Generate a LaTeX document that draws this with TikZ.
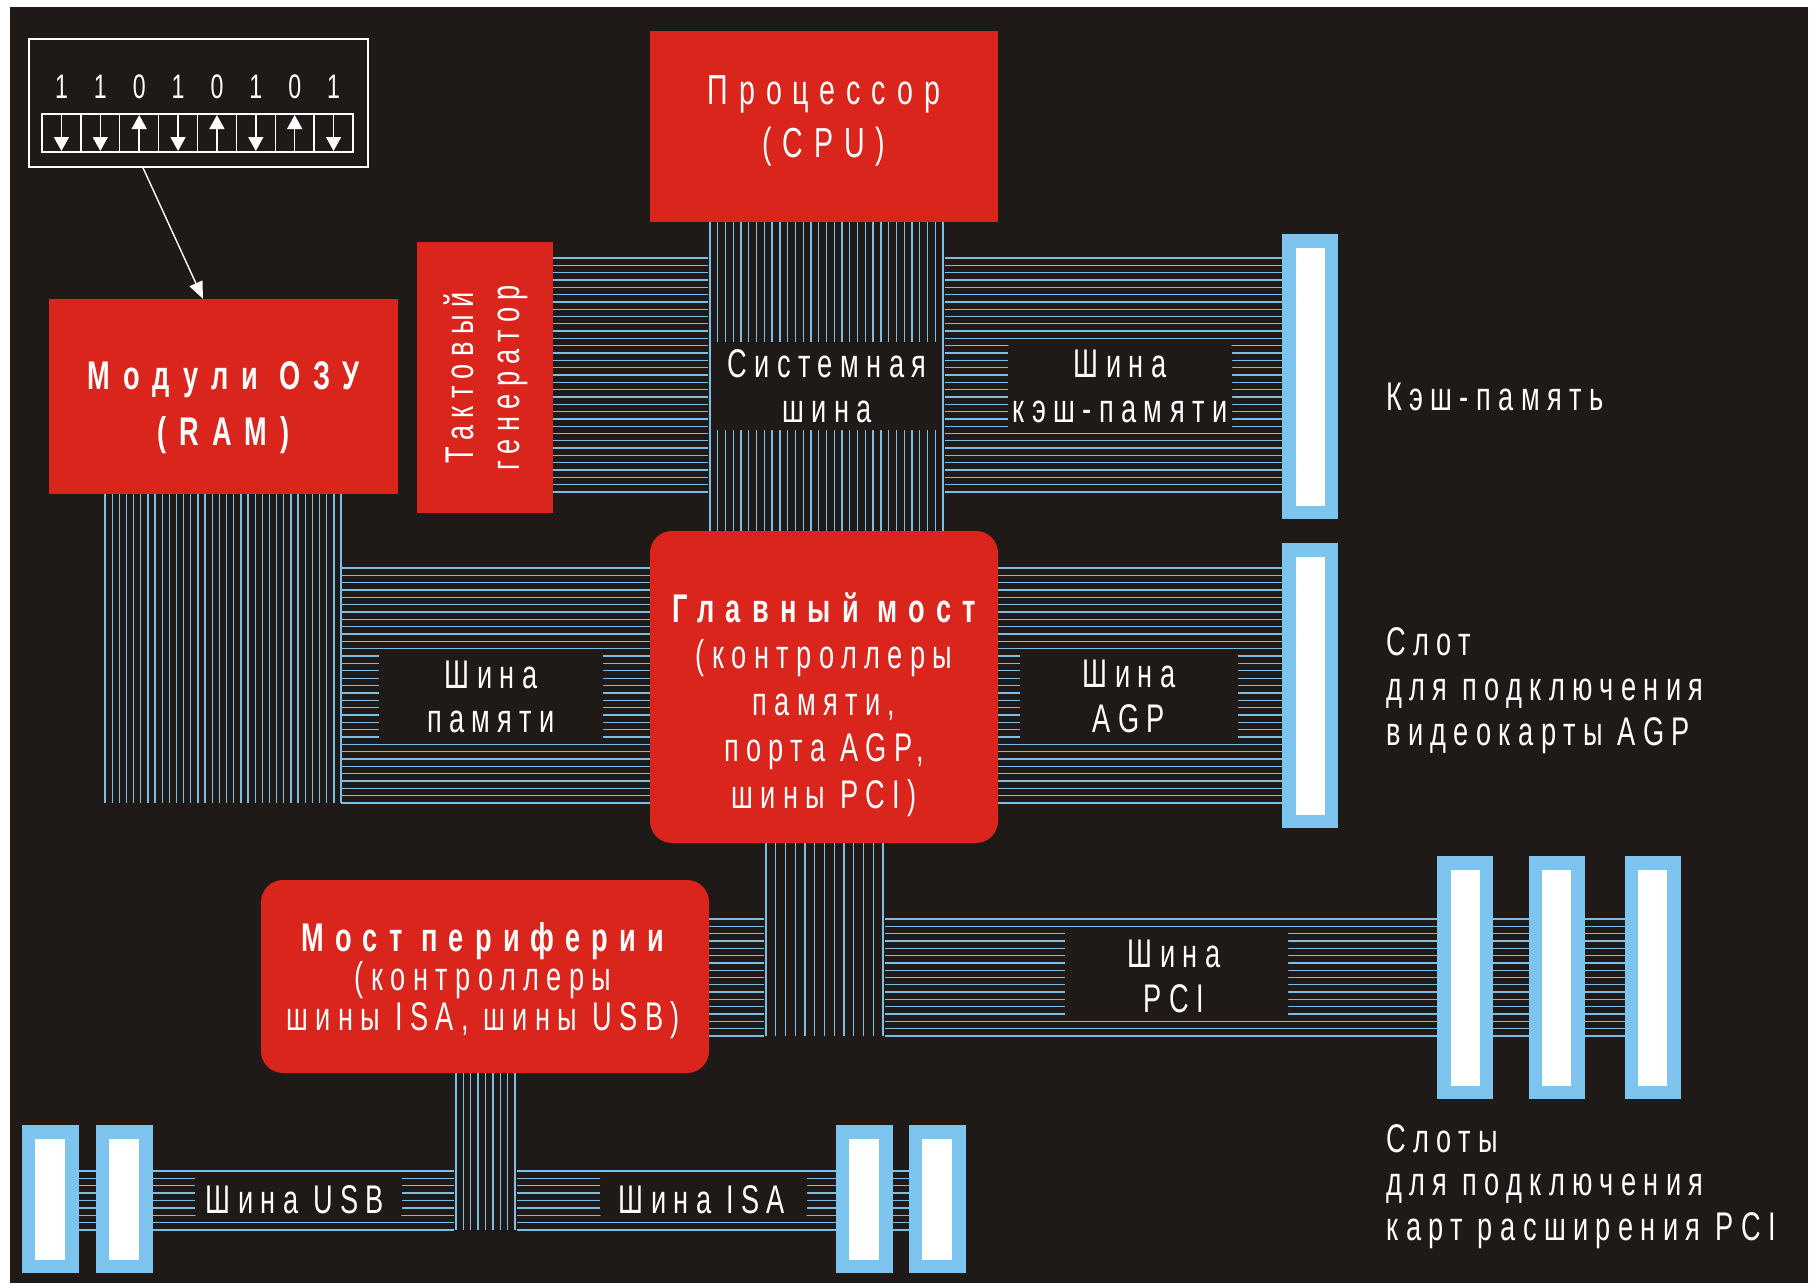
\documentclass[tikz,border=0pt]{standalone}
\usepackage{fontspec}
\setmainfont{Liberation Sans}
\newfontfamily\lf[FakeStretch=0.68,LetterSpace=18.5]{Liberation Sans}
\newfontfamily\lfh[FakeStretch=0.68,LetterSpace=28]{Liberation Sans}
\newfontfamily\lfr[FakeStretch=0.68,LetterSpace=33]{Liberation Sans}
\newfontfamily\lfc[FakeStretch=0.68,LetterSpace=26]{Liberation Sans}
\usetikzlibrary{arrows.meta,calc}
\definecolor{bg}{RGB}{31,26,23}
\definecolor{cred}{RGB}{218,37,29}
\definecolor{cslot}{RGB}{125,196,238}
\definecolor{cline}{RGB}{125,190,228}
\newcommand\hbus[5]{\foreach \k in {0,...,#5}{\pgfmathsetmacro\yy{#3+(#4-#3)*\k/#5}\draw[busline] (#1,\yy) -- (#2,\yy);}}
\newcommand\vbus[5]{\foreach \k in {0,...,#5}{\pgfmathsetmacro\xx{#1+(#2-#1)*\k/#5}\draw[busline] (\xx,#3) -- (\xx,#4);}}
\begin{document}
\begin{tikzpicture}[x=1pt,y=-1pt,
  busline/.style={draw=cline, line width=1.3pt},
  redbox/.style={fill=cred, draw=none, inner sep=0},
  bridge/.style={redbox, rounded corners=22pt},
  slot/.style={fill=white, draw=cslot, line width=13.5pt, inner sep=0},
  lblbox/.style={fill=bg, draw=none, rounded corners=4pt, inner sep=0},
  txt/.style={text=white, inner sep=0, anchor=base, font=\lf\fontsize{40}{44}\selectfont},
  btxt/.style={txt, font=\lfh\bfseries\fontsize{40}{44}\selectfont},
  rtxt/.style={txt, font=\lfr\bfseries\fontsize{40}{44}\selectfont},
  wtxt/.style={txt, font=\lfc\fontsize{42}{44}\selectfont},
  side/.style={txt, anchor=base west},
  bitarrow/.style={draw=white, line width=1.5pt, -{Triangle[width=15pt,length=14pt]}},
  ptr/.style={draw=white, line width=1.4pt, -{Triangle[width=14pt,length=17pt]}}
]
\useasboundingbox (0,0) rectangle (1811,1283);
\fill[white] (0,0) rectangle (1811,1283);
\fill[bg] (10,7) rectangle (1808,1283);

% ---- buses ----
% cache bus (horizontal) crossed by system bus (vertical)
\hbus{553}{1290}{258}{492}{32}
\fill[bg] (708,256) rectangle (945,494);
\vbus{710}{943}{222}{531}{30}
% memory bus
\vbus{105}{341}{494}{803}{33}
\hbus{341}{650}{568}{803}{32}
% AGP bus
\hbus{998}{1290}{568}{803}{32}
% PCI bus
\hbus{707}{1650}{919}{1036}{16}
\fill[bg] (764,917) rectangle (885,1038);
\vbus{766}{883}{843}{1036}{12}
% USB / ISA bus
\hbus{50}{937}{1171}{1230}{8}
\fill[bg] (454,1169) rectangle (517,1232);
\vbus{456}{515}{1073}{1230}{8}

% ---- bus labels ----
\node[lblbox, minimum width=226pt, minimum height=88pt] (sysL) at (827,386) {};
\node[txt] (sysL1) at (827,377) {Системная};
\node[txt] (sysL2) at (827,422) {шина};
\node[lblbox, minimum width=224pt, minimum height=87pt] (cacheL) at (1120,386.5) {};
\node[txt] (cacheL1) at (1120,377) {Шина};
\node[txt] (cacheL2) at (1120,422) {кэш-памяти};
\node[lblbox, minimum width=224pt, minimum height=91pt] (memL) at (491,697.5) {};
\node[txt] (memL1) at (491,688) {Шина};
\node[txt] (memL2) at (491,732) {памяти};
\node[lblbox, minimum width=218pt, minimum height=91pt] (agpL) at (1129,697.5) {};
\node[txt] (agpL1) at (1129,687) {Шина};
\node[txt] (agpL2) at (1129,732) {AGP};
\node[lblbox, minimum width=223pt, minimum height=88pt] (pciL) at (1176.5,974) {};
\node[txt] (pciL1) at (1174,967) {Шина};
\node[txt] (pciL2) at (1174,1012) {PCI};
\node[lblbox, minimum width=207pt, minimum height=43pt] (usbL) at (298.5,1196.5) {};
\node[txt] (usbL1) at (295,1213) {Шина USB};
\node[lblbox, minimum width=207pt, minimum height=43pt] (isaL) at (703.5,1196.5) {};
\node[txt] (isaL1) at (702,1213) {Шина ISA};

% ---- red blocks ----
\node[redbox, minimum width=348pt, minimum height=191pt] (cpu) at (824,126.5) {};
\node[wtxt] (cpu1) at (824,104) {Процессор};
\node[wtxt] (cpu2) at (824,157) {(CPU)};
\node[redbox, minimum width=349pt, minimum height=195pt] (ram) at (223.5,396.5) {};
\node[rtxt] (ram1) at (223.5,389) {Модули ОЗУ};
\node[rtxt] (ram2) at (223.5,445) {(RAM)};
\node[redbox, minimum width=136pt, minimum height=271pt] (clk) at (485,377.5) {};
\node[txt, rotate=90] (clk1) at (473,378) {Тактовый};
\node[txt, rotate=90] (clk2) at (519,378) {генератор};
\node[bridge, minimum width=348pt, minimum height=312pt] (nb) at (824,687) {};
\node[btxt] (nb1) at (824,622) {Главный мост};
\node[txt] (nb2) at (824,668) {(контроллеры};
\node[txt] (nb3) at (824,715) {памяти,};
\node[txt] (nb4) at (824,761) {порта AGP,};
\node[txt] (nb5) at (824,808) {шины PCI)};
\node[bridge, minimum width=448pt, minimum height=193pt] (sb) at (485,976.5) {};
\node[btxt] (sb1) at (483,951) {Мост периферии};
\node[txt] (sb2) at (483,990) {(контроллеры};
\node[txt] (sb3) at (483,1030) {шины ISA, шины USB)};

% ---- slots ----
\node[slot, minimum width=42.5pt, minimum height=271.5pt] (cache) at (1310,376.5) {};
\node[slot, minimum width=42.5pt, minimum height=271.5pt] (agp) at (1310,685.5) {};
\node[slot, minimum width=42.5pt, minimum height=229.5pt] (pci1) at (1465,977.5) {};
\node[slot, minimum width=42.5pt, minimum height=229.5pt] (pci2) at (1556.5,977.5) {};
\node[slot, minimum width=42.5pt, minimum height=229.5pt] (pci3) at (1652.5,977.5) {};
\node[slot, minimum width=43.5pt, minimum height=134.5pt] (usb1) at (50,1199) {};
\node[slot, minimum width=43.5pt, minimum height=134.5pt] (usb2) at (124,1199) {};
\node[slot, minimum width=43.5pt, minimum height=134.5pt] (isa1) at (864,1199) {};
\node[slot, minimum width=43.5pt, minimum height=134.5pt] (isa2) at (937,1199) {};

% ---- side captions ----
\node[side] (capC) at (1386,410) {Кэш-память};
\node[side] (capA1) at (1386,655) {Слот};
\node[side] (capA2) at (1386,700) {для подключения};
\node[side] (capA3) at (1386,745) {видеокарты AGP};
\node[side] (capP1) at (1386,1152) {Слоты};
\node[side] (capP2) at (1386,1195) {для подключения};
\node[side] (capP3) at (1386,1240) {карт расширения PCI};

% ---- bit register ----
\node[draw=white, line width=1.5pt, minimum width=339pt, minimum height=128pt, inner sep=0] (bits) at (198.5,103) {};
\node[draw=white, line width=1.3pt, minimum width=311pt, minimum height=38pt, inner sep=0] (cells) at (197.5,133) {};
\foreach \i in {1,...,7}{\draw[white, line width=1.3pt] ({42+38.875*\i},114) -- ({42+38.875*\i},152);}
\foreach \b [count=\i from 0] in {1,1,0,1,0,1,0,1}{
  \pgfmathsetmacro\cx{42+38.875*(\i+0.5)}
  \node[txt, font=\lf\fontsize{34}{40}\selectfont] (d\i) at (\cx,98) {\b};
  \ifnum\b=1
    \draw[bitarrow] (\cx,114) -- (\cx,151);
  \else
    \draw[bitarrow] (\cx,152) -- (\cx,115);
  \fi
}
\draw[ptr] ([xshift=-55.5pt]bits.south) -- ([xshift=-20.5pt]ram.north);
\end{tikzpicture}
\end{document}
